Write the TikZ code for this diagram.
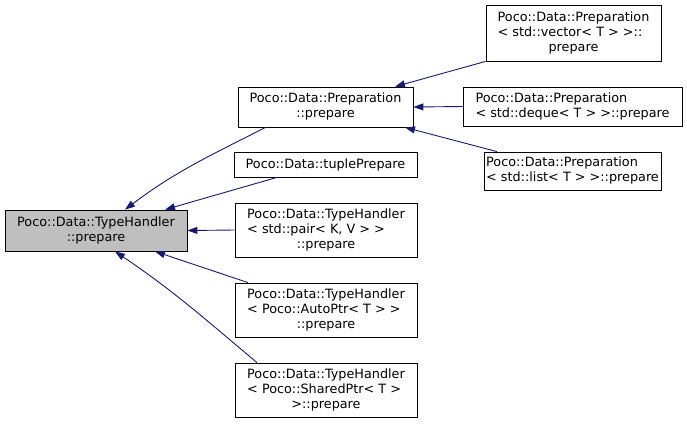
\documentclass[tikz,border=0pt]{standalone}
\usepackage{fontspec}
\setmainfont{DejaVu Sans}
\usetikzlibrary{arrows.meta}
\definecolor{edgeblue}{HTML}{191970}
\definecolor{rootgray}{HTML}{BFBFBF}
% left lines, last line centred
\newcommand{\dlabel}[2]{\begin{tabular}{@{}l@{}}#1\\\multicolumn{1}{@{}c@{}}{#2}\end{tabular}}

\begin{document}
\begin{tikzpicture}[x=1pt,y=-1pt]
\useasboundingbox (0,0) rectangle (687,424);
\begin{scope}[every node/.style={rectangle,draw=black,line width=0.8pt,inner sep=0pt,
              font=\fontsize{12.8}{15}\selectfont}]
    \node [fill=rootgray,minimum width=182pt,minimum height=41pt] (th) at (96,230.5)
        {\dlabel{Poco::Data::TypeHandler}{::prepare}};
    \node [minimum width=175pt,minimum height=40pt] (prep) at (325.5,107)
        {\dlabel{Poco::Data::Preparation}{::prepare}};
    \node [minimum width=183pt,minimum height=25pt] (tuple) at (325.5,164.5)
        {Poco::Data::tuplePrepare};
    \node [minimum width=182pt,minimum height=54pt] (pair) at (326,230)
        {\dlabel{Poco::Data::TypeHandler\\< std::pair< K, V > >}{::prepare}};
    \node [minimum width=182pt,minimum height=54pt] (auto) at (326,310)
        {\dlabel{Poco::Data::TypeHandler\\< Poco::AutoPtr< T > >}{::prepare}};
    \node [minimum width=182pt,minimum height=54pt] (shared) at (326,390)
        {\dlabel{Poco::Data::TypeHandler\\< Poco::SharedPtr< T >}{>::prepare}};
    \node [minimum width=175pt,minimum height=56pt] (vec) at (573.5,33)
        {\dlabel{Poco::Data::Preparation\\< std::vector< T > >::}{prepare}};
    \node [minimum width=219pt,minimum height=39pt] (deq) at (572.5,106.5)
        {\dlabel{Poco::Data::Preparation}{< std::deque< T > >::prepare}};
    \node [minimum width=177pt,minimum height=38pt] (lst) at (572.5,171)
        {\dlabel{Poco::Data::Preparation}{< std::list< T > >::prepare}};
\end{scope}
\begin{scope}[>={Triangle[length=10pt,width=7pt]},
              link/.style={draw=edgeblue,line width=0.9pt}]
    \path [->] ([xshift=-60pt]prep.south) edge [link,out=207,in=37] ([xshift=29pt]th.north);
    \path [->] ([xshift=-48.5pt]tuple.south) edge [link] ([xshift=69pt]th.north);
    \path [->] (pair.west) edge [link] (th.east);
    \path [->] ([xshift=-78pt]auto.north) edge [link] ([xshift=59pt]th.south);
    \path [->] ([xshift=-69pt]shared.north) edge [link,out=140,in=-34] ([xshift=19pt]th.south);
    \path [->] (vec.south west) edge [link] ([xshift=69.5pt]prep.north);
    \path [->] (deq.west) edge [link] (prep.east);
    \path [->] ([xshift=-75.5pt]lst.north) edge [link] ([xshift=79.5pt]prep.south);
\end{scope}
\end{tikzpicture}
\end{document}
